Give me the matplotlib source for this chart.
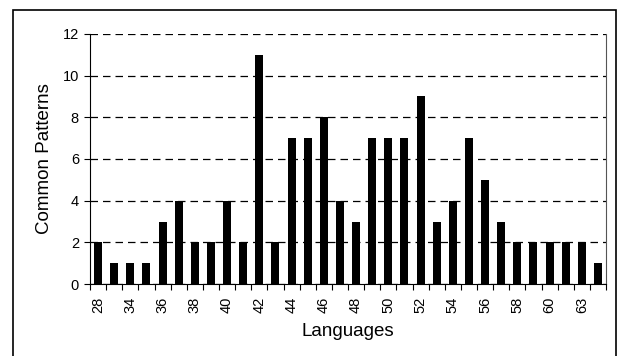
import numpy as np
import matplotlib.pyplot as plt
from matplotlib.patches import Rectangle

plt.rcParams['font.family'] = ['Liberation Sans', 'DejaVu Sans']

languages = [28, 31, 34, 35, 36, 37, 38, 39, 40, 41, 42, 43, 44, 45, 46, 47,
             48, 49, 50, 51, 52, 53, 54, 55, 56, 57, 58, 59, 60, 62, 63, 64]
patterns = [2, 1, 1, 1, 3, 4, 2, 2, 4, 2, 11, 2, 7, 7, 8, 4,
            3, 7, 7, 7, 9, 3, 4, 7, 5, 3, 2, 2, 2, 2, 2, 1]

fig = plt.figure(figsize=(6.18, 3.56), dpi=100)
ax = fig.add_axes([90 / 618, 1 - 284 / 356, 516 / 618, 250 / 356])

x = np.arange(len(languages))
ax.bar(x, patterns, width=0.5, color='black', zorder=3)

ax.set_xlim(-0.5, len(languages) - 0.5)
ax.set_ylim(0, 12)
ax.set_yticks(range(0, 13, 2))
ax.yaxis.grid(True, linestyle=(0, (6, 4)), color='black', linewidth=0.9)

# ticks at category boundaries, labels at every other category
ax.set_xticks(np.arange(-0.5, len(languages), 1.0))
ax.set_xticklabels([])
ax.set_xticks(x[::2], minor=True)
ax.set_xticklabels([str(v) for v in languages[::2]], minor=True, rotation=90,
                   fontsize=10.5)
ax.tick_params(axis='x', which='major', direction='out', length=4, width=0.8)
ax.tick_params(axis='x', which='minor', length=0, pad=9)
ax.tick_params(axis='y', direction='out', length=4, width=0.8, labelsize=10.5,
               pad=4)

ax.spines['top'].set_visible(False)
ax.spines['right'].set_color('#555555')
ax.set_xlabel('Languages', fontsize=13.5, labelpad=7)
ax.set_ylabel('Common Patterns', fontsize=13.5, labelpad=7)

# outer chart border
fig.patches.append(Rectangle((13 / 618, -0.05), 603 / 618, 1.05 - 10 / 356,
                             transform=fig.transFigure, fill=False,
                             edgecolor='black', linewidth=1.2))

fig.savefig('out.png', dpi=100)
